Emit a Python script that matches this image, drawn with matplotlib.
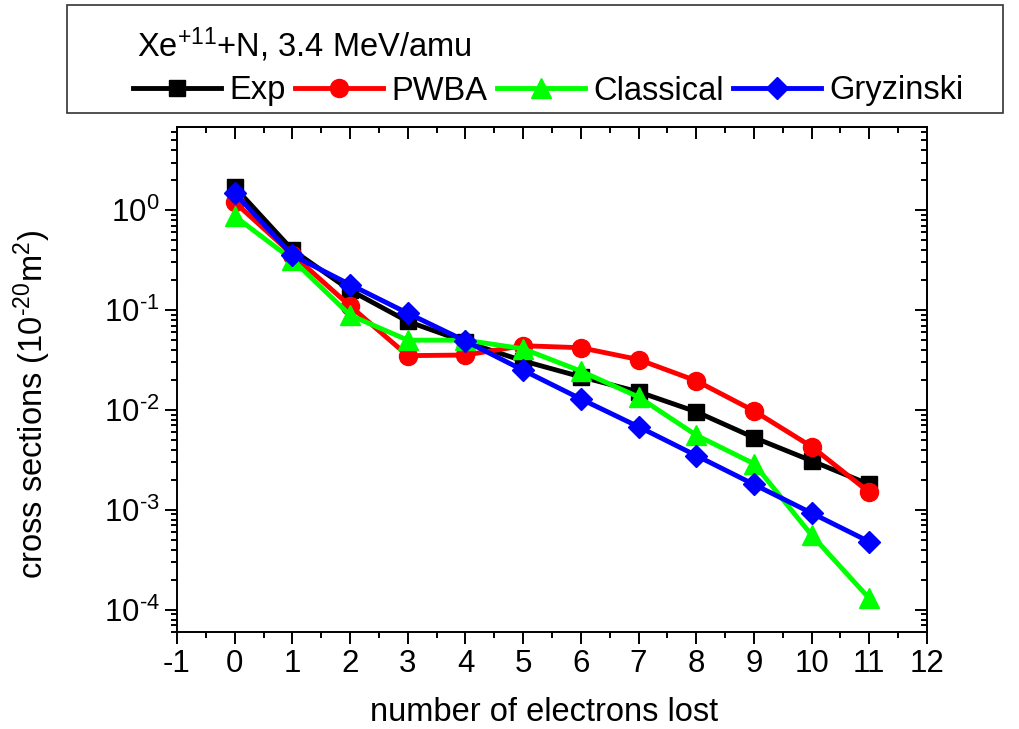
import numpy as np
import matplotlib
matplotlib.use("Agg")
import matplotlib.pyplot as plt
from matplotlib.patches import Rectangle
from matplotlib.ticker import MultipleLocator, LogLocator, NullFormatter, FuncFormatter

plt.rcParams['font.family'] = ['Liberation Sans', 'DejaVu Sans']
plt.rcParams['mathtext.fontset'] = 'custom'
plt.rcParams['mathtext.rm'] = 'Liberation Sans'
plt.rcParams['mathtext.it'] = 'Liberation Sans'
plt.rcParams['mathtext.bf'] = 'Liberation Sans'
plt.rcParams['axes.unicode_minus'] = False

#--------data---------------------------------------
electrons = [0, 1, 2, 3, 4, 5, 6, 7, 8, 9, 10, 11]
exp_vals = [1.7, 0.40, 0.158, 0.077, 0.048, 0.031, 0.0215, 0.0152, 0.0096, 0.0053, 0.0031, 0.0018]
pwba_vals = [1.2, 0.36, 0.11, 0.035, 0.0355, 0.044, 0.042, 0.032, 0.0196, 0.0098, 0.0043, 0.0015]
classical_vals = [0.87, 0.32, 0.089, 0.050, 0.050, 0.041, 0.0245, 0.0135, 0.0056, 0.0029, 0.00056, 0.00013]
gryz_vals = [1.48, 0.355, 0.18, 0.093, 0.049, 0.025, 0.0129, 0.0068, 0.0035, 0.0018, 0.00093, 0.00048]

series = [
    ("Exp", exp_vals, "black", "s", 12),
    ("PWBA", pwba_vals, "#ff0000", "o", 13),
    ("Classical", classical_vals, "#00ff00", "^", 14),
    ("Gryzinski", gryz_vals, "#0000ff", "D", 11.5),
]


def log_label(v, pos):
    # hyphen instead of the long minus, like the original
    n = int(round(np.log10(v)))
    s = str(n).replace("-", r"\text{-}")
    return "10$^{%s}$" % s


fig = plt.figure(figsize=(10.2, 7.29), dpi=100)
ax = fig.add_axes([177/1020, 97/729, 750/1020, 505/729])

handles = []
for name, vals, col, mk, ms in series:
    ln, = ax.plot(electrons, vals, color=col, lw=3.5, marker=mk, ms=ms,
                  markeredgecolor=col, markerfacecolor=col, label=name)
    handles.append(ln)

ax.set_yscale('log')
ax.set_xlim(-1, 12)
ax.set_ylim(6e-5, 6.8)

ax.xaxis.set_major_locator(MultipleLocator(1))
ax.xaxis.set_minor_locator(MultipleLocator(0.5))
ax.yaxis.set_major_locator(LogLocator(base=10, numticks=20))
ax.yaxis.set_minor_locator(LogLocator(base=10, subs=np.arange(2, 10), numticks=20))
ax.yaxis.set_major_formatter(FuncFormatter(log_label))
ax.yaxis.set_minor_formatter(NullFormatter())

ax.tick_params(which='major', direction='out', length=8.5, width=1.4, labelsize=22.5, pad=4)
ax.tick_params(which='minor', direction='out', length=4.3, width=1.4)
for sp in ax.spines.values():
    sp.set_linewidth(1.4)

# mirror ticks pointing inward on top and right
top = ax.secondary_xaxis('top')
top.xaxis.set_major_locator(MultipleLocator(1))
top.xaxis.set_minor_locator(MultipleLocator(0.5))
top.tick_params(which='major', direction='in', length=8.5, width=1.4, labeltop=False)
top.tick_params(which='minor', direction='in', length=4.3, width=1.4)
top.spines['top'].set_linewidth(1.4)

right = ax.secondary_yaxis('right')
right.set_yscale('log')
right.yaxis.set_major_locator(LogLocator(base=10, numticks=20))
right.yaxis.set_minor_locator(LogLocator(base=10, subs=np.arange(2, 10), numticks=20))
right.tick_params(which='major', direction='in', length=8.5, width=1.4, labelright=False)
right.tick_params(which='minor', direction='in', length=4.3, width=1.4, labelright=False)
right.spines['right'].set_linewidth(1.4)

ax.set_xlabel("number of electrons lost", fontsize=23.5)
ax.xaxis.set_label_coords(0.49, -0.128)
ax.set_ylabel(r"cross sections (10$^{\text{-}20}$m$^2$)", fontsize=23.5)
ax.yaxis.set_label_coords(-0.165, 0.45)

#--------legend box above the axes--------------------
fig.patches.append(Rectangle((67/1020, 616/729), 936/1020, 108/729,
                             transform=fig.transFigure, fill=False,
                             edgecolor='#333333', lw=1.2))
fig.text(137/1020, 1 - 45/729, "Xe$^{+11}$+N, 3.4 MeV/amu", fontsize=23.5,
         va='center', ha='left')
fig.legend(handles, [h.get_label() for h in handles], ncol=4, loc='center left',
           bbox_to_anchor=(133/1020, 1 - 91/729), frameon=False, fontsize=23.5,
           handlelength=2.7, handletextpad=0.26, columnspacing=0.28,
           borderpad=0, borderaxespad=0)

fig.savefig("out.png", dpi=100)
